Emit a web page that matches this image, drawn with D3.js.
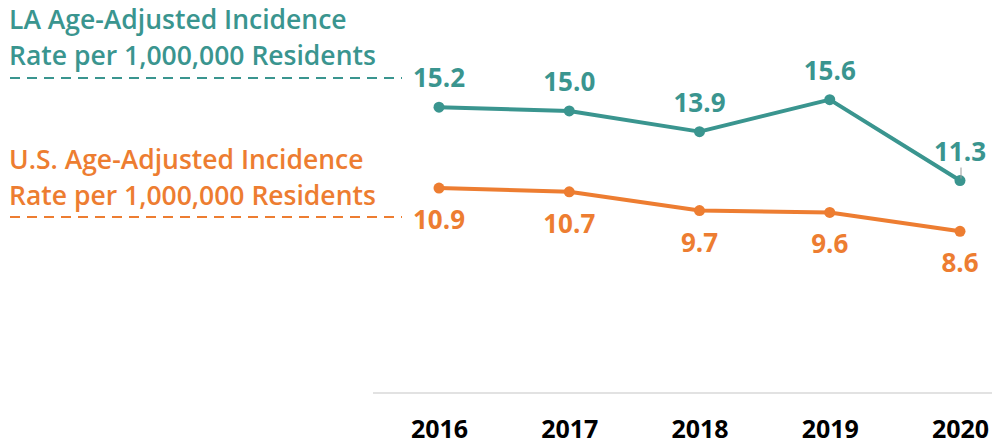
<!DOCTYPE html>
<html>
<head>
<meta charset="utf-8">
<script src="https://cdn.jsdelivr.net/npm/d3@7"></script>
<style>
  html, body { margin: 0; padding: 0; background: #fff; }
  svg { display: block; }
  text { font-family: "Open Sans", "Noto Sans", sans-serif; }
</style>
</head>
<body>
<svg id="chart" width="992" height="446"></svg>
<script>
const years = ["2016", "2017", "2018", "2019", "2020"];
const laValues = [15.2, 15.0, 13.9, 15.6, 11.3];
const usValues = [10.9, 10.7, 9.7, 9.6, 8.6];
const laLabel = ["LA Age-Adjusted Incidence", "Rate per 1,000,000 Residents"];
const usLabel = ["U.S. Age-Adjusted Incidence", "Rate per 1,000,000 Residents"];

const teal = "#3A958F";
const orange = "#ED7D31";

const svg = d3.select("#chart");
const x = d3.scalePoint().domain(years).range([439, 960]);
const y = d3.scaleLinear().domain([0, 20.9]).range([393, 0]);

// baseline axis
const axis = d3.axisBottom(x).tickSize(0).tickPadding(0);
const gAxis = svg.append("g").attr("transform", "translate(0,393)").call(axis);
gAxis.select(".domain").remove();
gAxis.append("line").attr("x1", 373).attr("x2", 992).attr("y1", 0).attr("y2", 0)
  .attr("stroke", "#d9d9d9").attr("stroke-width", 1.5);
gAxis.selectAll(".tick text")
  .attr("y", 45).attr("dy", null)
  .attr("fill", "#000").attr("font-size", 25).attr("font-weight", 700)
  .attr("font-family", "'Open Sans', sans-serif");

function drawSeries(vals, color, labelOffset, labelLines, labelY, dashY) {
  const data = years.map((yr, i) => ({ yr, v: vals[i] }));
  const line = d3.line().x(d => x(d.yr)).y(d => y(d.v));
  svg.append("path").datum(data).attr("d", line)
    .attr("fill", "none").attr("stroke", color).attr("stroke-width", 4)
    .attr("stroke-linejoin", "round");
  svg.selectAll(null).data(data).enter().append("circle")
    .attr("cx", d => x(d.yr)).attr("cy", d => y(d.v)).attr("r", 5.5).attr("fill", color);
  svg.selectAll(null).data(data).enter().append("text")
    .attr("x", d => x(d.yr)).attr("y", d => y(d.v) + labelOffset)
    .attr("text-anchor", "middle").attr("fill", color)
    .attr("font-size", 26).attr("font-weight", 700)
    .text(d => d.v.toFixed(1));
  // series label
  svg.append("text").attr("x", 9).attr("y", labelY).attr("fill", color)
    .attr("font-size", 26.5).attr("font-weight", 600)
    .selectAll("tspan").data(labelLines).enter().append("tspan")
    .attr("x", 9).attr("dy", (d, i) => i === 0 ? 0 : 36).text(d => d);
  svg.append("line").attr("x1", 10).attr("x2", 402).attr("y1", dashY).attr("y2", dashY)
    .attr("stroke", color).attr("stroke-width", 2).attr("stroke-dasharray", "10,7");
}

drawSeries(laValues, teal, -20, laLabel, 29, 78);
drawSeries(usValues, orange, 41, usLabel, 169, 217);

// small leader line for 2020 LA label
svg.append("line").attr("x1", x("2020") + 1).attr("x2", x("2020") + 1)
  .attr("y1", y(laValues[4]) - 13).attr("y2", y(laValues[4]) - 2)
  .attr("stroke", "#999").attr("stroke-width", 1);
</script>
</body>
</html>
